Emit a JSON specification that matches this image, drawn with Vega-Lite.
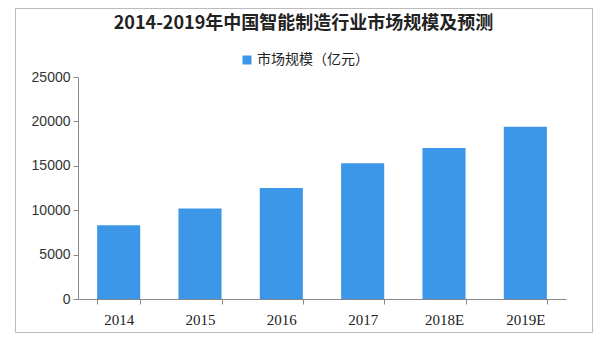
{
  "$schema": "https://vega.github.io/schema/vega-lite/v6.json",
  "width": 577,
  "height": 324,
  "autosize": {"type": "none"},
  "padding": {"left": 15, "top": 8, "right": 20, "bottom": 31},
  "background": "white",
  "title": {
    "text": "2014-2019年中国智能制造行业市场规模及预测",
    "font": "Noto Sans CJK SC",
    "fontSize": 18,
    "fontWeight": "bold",
    "color": "#222222",
    "anchor": "middle",
    "frame": "group",
    "offset": -25
  },
  "data": {
    "values": [
      {"year": "2014", "value": 8300, "series": "市场规模（亿元）"},
      {"year": "2015", "value": 10200, "series": "市场规模（亿元）"},
      {"year": "2016", "value": 12500, "series": "市场规模（亿元）"},
      {"year": "2017", "value": 15300, "series": "市场规模（亿元）"},
      {"year": "2018E", "value": 17000, "series": "市场规模（亿元）"},
      {"year": "2019E", "value": 19400, "series": "市场规模（亿元）"}
    ]
  },
  "mark": {"type": "bar"},
  "encoding": {
    "x": {
      "field": "year",
      "type": "ordinal",
      "sort": null,
      "scale": {"paddingInner": 0.47, "paddingOuter": 0.235, "range": [63, 551]},
      "axis": {
        "title": null,
        "offset": -33,
        "labelAngle": 0,
        "labelFont": "Liberation Serif",
        "labelFontSize": 15,
        "labelColor": "#222222",
        "labelPadding": 8,
        "tickBand": "extent",
        "tickSize": 5,
        "tickColor": "#888888",
        "domainColor": "#888888"
      }
    },
    "y": {
      "field": "value",
      "type": "quantitative",
      "scale": {"domain": [0, 25000], "range": [291, 69]},
      "axis": {
        "title": null,
        "offset": -63,
        "format": "d",
        "values": [0, 5000, 10000, 15000, 20000, 25000],
        "grid": false,
        "labelFont": "Liberation Sans",
        "labelFontSize": 14,
        "labelColor": "#333333",
        "labelPadding": 3,
        "tickSize": 5,
        "tickColor": "#888888",
        "domainColor": "#888888"
      }
    },
    "color": {
      "field": "series",
      "type": "nominal",
      "scale": {"range": ["#3d97e8"]},
      "legend": {
        "title": null,
        "orient": "none",
        "legendX": 225,
        "legendY": 45,
        "symbolType": "square",
        "symbolSize": 81,
        "labelFont": "Noto Sans CJK SC",
        "labelFontSize": 14,
        "labelColor": "#222222",
        "labelOffset": 3
      }
    }
  },
  "config": {"view": {"stroke": "#bbbbbb", "strokeWidth": 1}}
}
